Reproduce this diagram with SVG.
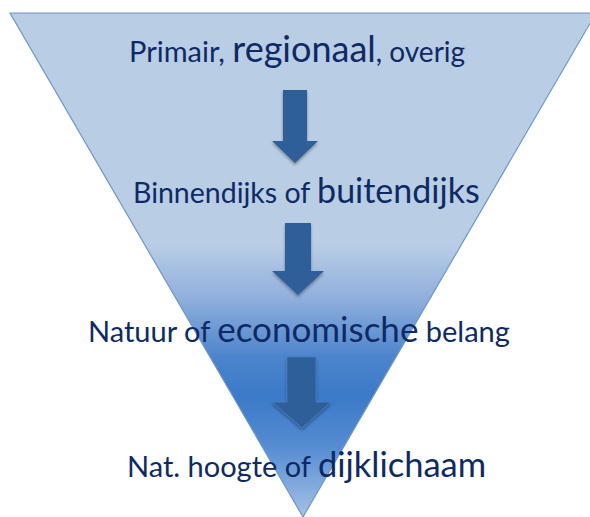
<svg xmlns="http://www.w3.org/2000/svg" width="590" height="517" viewBox="0 0 590 517">
  <defs>
    <linearGradient id="funnelGrad" gradientUnits="userSpaceOnUse" x1="0" y1="13" x2="0" y2="517">
      <stop offset="0" stop-color="#b9cde5"/>
      <stop offset="0.46" stop-color="#b9cde5"/>
      <stop offset="0.57" stop-color="#8eaedc"/>
      <stop offset="0.68" stop-color="#4d85cd"/>
      <stop offset="0.76" stop-color="#3b7ac8"/>
      <stop offset="0.86" stop-color="#558cd2"/>
      <stop offset="1" stop-color="#a6c1e6"/>
    </linearGradient>
    <filter id="shadow" x="-30%" y="-30%" width="160%" height="160%">
      <feDropShadow dx="0" dy="2" stdDeviation="1.6" flood-color="#000" flood-opacity="0.35"/>
    </filter>
  </defs>
  <style>
    .lbl { font-family: "Lato", "Liberation Sans", sans-serif; fill: #0e2a64; }
    .arrow { fill: #2d5e99; filter: url(#shadow); }
  </style>
  <rect width="590" height="517" fill="#ffffff"/>
  <g id="funnel">
    <polygon points="10,13 596,13 303,517" fill="url(#funnelGrad)" stroke="#6e96cb" stroke-width="1.2"/>
  </g>
  <g id="connectors">
    <polygon class="arrow" points="283,90 307,90 307,141 318,141 295,163 272,141 283,141"/>
    <polygon class="arrow" points="285,223 311,223 311,271 324,271 298,295 272,271 285,271"/>
    <polygon class="arrow" points="287,357 316,357 316,402 331,402 302,428 272,402 287,402" stroke="#4b80c2" stroke-width="0.8"/>
  </g>
  <g id="node1">
    <text class="lbl" x="129" y="62"><tspan font-size="29">Primair, </tspan><tspan font-size="36">regionaal</tspan><tspan font-size="28">, overig</tspan></text>
  </g>
  <g id="node2">
    <text class="lbl" x="133" y="203"><tspan font-size="28.5">Binnendijks of </tspan><tspan font-size="34">buitendijks</tspan></text>
  </g>
  <g id="node3">
    <text class="lbl" x="88" y="342"><tspan font-size="29">Natuur of </tspan><tspan font-size="35">economische</tspan><tspan font-size="29"> belang</tspan></text>
  </g>
  <g id="node4">
    <text class="lbl" x="127" y="477"><tspan font-size="29">Nat. hoogte of </tspan><tspan font-size="34.5">dijklichaam</tspan></text>
  </g>
</svg>
